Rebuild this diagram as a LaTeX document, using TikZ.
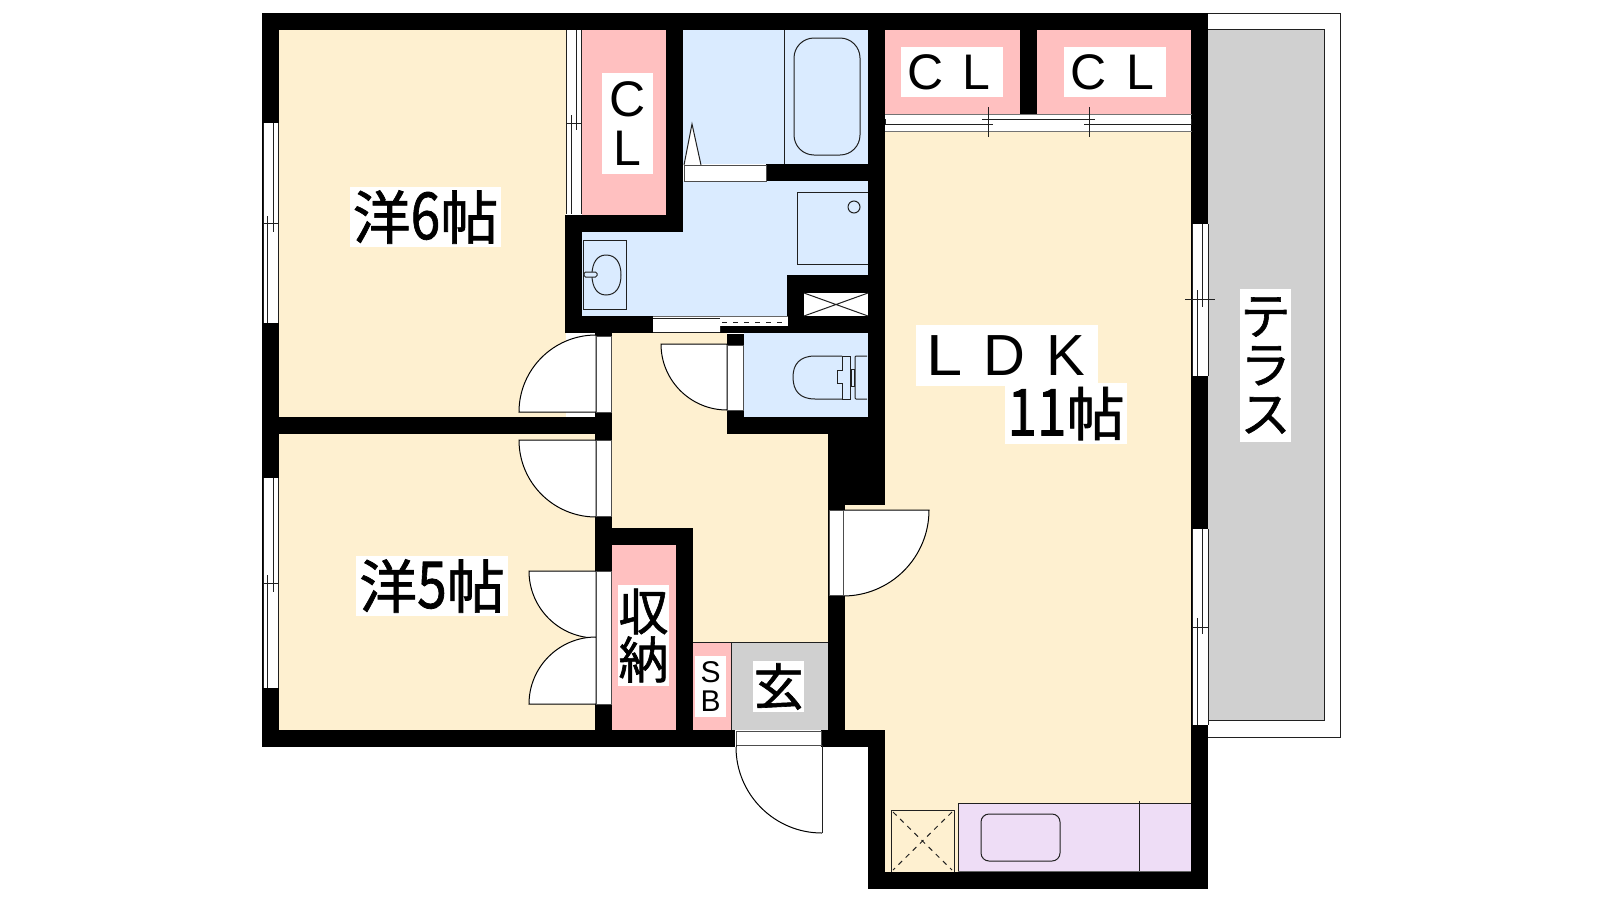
\documentclass[tikz,border=0pt]{standalone}
\usepackage{graphicx}
\usepackage{fontspec}
\newfontfamily\jp[FakeBold=1.2]{Noto Sans CJK JP}
\newfontfamily\ar{Liberation Sans}
\definecolor{beige}{HTML}{FEF0D0}
\definecolor{pinkc}{HTML}{FFC0C0}
\definecolor{bluec}{HTML}{DAEBFF}
\definecolor{grayc}{HTML}{D0D0D0}
\definecolor{purplec}{HTML}{EEDDF6}
\definecolor{linec}{HTML}{202020}
\tikzset{
  wall/.style={fill=black,draw=none},
  ln/.style={draw=linec,line width=1pt},
  thin ln/.style={draw=linec,line width=0.8pt},
  frame/.style={fill=white,draw=linec!80,line width=1pt},
  leaf/.style={fill=white,draw=black,line width=1pt},
  lbl/.style={fill=white,inner sep=0pt,text=black,font=\jp,align=center},
}
\newcommand{\vwin}[9]{%
  \fill[white] (#1,#5) rectangle (#4,#7);
  \draw[ln] (#1,#5) -- (#1,#7) (#4,#5) -- (#4,#7) (#1,#6) -- (#4,#6);
  \draw[ln] (#2,#8) -- (#2,#7) (#3,#5) -- (#3,#9);
}
\newcommand{\lt}[2]{\makebox[#1pt]{\ar #2}}
\newcommand{\dg}[1]{\scalebox{0.92}[1.12]{#1}}
\begin{document}
\begin{tikzpicture}[x=1pt,y=-1pt]
\useasboundingbox (0,0) rectangle (1600,900);
\fill[white] (0,0) rectangle (1600,900);
% terrace
\fill[white] (1199,13) rectangle (1340,737);
\draw[ln] (1199,13) -- (1340,13) -- (1340,737) -- (1208,737);
\fill[grayc] (1208,29) rectangle (1324,720);
\draw[ln] (1208,29) -- (1324,29) -- (1324,720) -- (1208,720);
% floors
\fill[beige] (279,30) rectangle (566,417);
\fill[beige] (279,434) rectangle (596,730);
\fill[beige] (612,333) rectangle (727,528);
\fill[beige] (693,417) rectangle (828,642);
\fill[beige] (885,131) rectangle (1191,872);
\fill[beige] (845,505) rectangle (885,730);
\fill[pinkc] (582,30) rectangle (666,215);
\fill[pinkc] (885,30) rectangle (1020,114);
\fill[pinkc] (1037,30) rectangle (1191,114);
\fill[pinkc] (612,545) rectangle (676,730);
\fill[pinkc] (693,642) rectangle (731,730);
\fill[grayc] (731,642) rectangle (828,730);
\fill[bluec] (683,30) rectangle (868,164);
\fill[bluec] (683,181) -- (868,181) -- (868,275) -- (788,275) -- (788,316) -- (582,316) -- (582,232) -- (683,232) -- cycle;
\fill[bluec] (744,333) rectangle (868,417);
% walls
\fill[wall] (262,13) rectangle (1208,30);
\fill[wall] (262,30) rectangle (279,747);
\fill[wall] (262,730) rectangle (735,747);
\fill[wall] (821,730) rectangle (885,747);
\fill[wall] (262,417) rectangle (612,434);
\fill[wall] (666,30) rectangle (683,232);
\fill[wall] (565,215) rectangle (683,232);
\fill[wall] (565,215) rectangle (582,333);
\fill[wall] (565,316) rectangle (653,333);
\fill[wall] (766,164) rectangle (885,181);
\fill[wall] (868,13) rectangle (885,434);
\fill[wall] (787,275) rectangle (885,293);
\fill[wall] (787,275) rectangle (804,333);
\fill[wall] (788,316) rectangle (885,333);
\fill[wall] (720,326) rectangle (788,333);
\fill[wall] (1020,30) rectangle (1037,114);
\fill[wall] (1191,13) rectangle (1208,889);
\fill[wall] (868,730) rectangle (885,889);
\fill[wall] (868,872) rectangle (1208,889);
\fill[wall] (595,333) rectangle (612,730);
\fill[wall] (612,528) rectangle (693,545);
\fill[wall] (676,528) rectangle (693,747);
\fill[wall] (727,334) rectangle (744,434);
\fill[wall] (727,417) rectangle (885,434);
\fill[wall] (828,434) rectangle (885,505);
\fill[wall] (828,505) rectangle (845,747);
% windows
\vwin{263}{267}{273}{278}{123}{223}{323}{216}{232}
\vwin{263}{267}{273}{278}{478}{583}{688}{575}{592}
\vwin{566}{571}{576}{581}{30}{123}{214}{115}{130}
\vwin{1192}{1197}{1202}{1208}{224}{299}{376}{290}{307}
\vwin{1192}{1197}{1202}{1208}{529}{627}{725}{618}{634}
\draw[thin ln] (1185,299) -- (1215,299);
% top window of LDK closets
\fill[white] (885,114) rectangle (1191,131);
\draw[ln] (885,119) -- (885,125) (1191,119) -- (1191,125);
\draw[ln] (982,119) -- (1095,119) (885,124.5) -- (993,124.5) (1084,124.5) -- (1191,124.5);
\draw[draw=black!55,line width=0.6pt] (885,114) -- (1192,114) (885,131) -- (1192,131);
\draw[thin ln] (988,107) -- (988,137) (1089,107) -- (1089,137);
% bath
\draw[ln] (784,30) -- (784,164);
\draw[ln,rounded corners=20pt] (794,38) rectangle (860,155);
\draw[ln,fill=white] (684,165) -- (692,124) -- (701,165);
\draw[frame] (684,165) rectangle (766,181);
% wash
\draw[ln] (868,192) -- (797,192) -- (797,264) -- (868,264);
\draw[ln] (854,207) circle (6);
\fill[white] (804,293) rectangle (868,316);
\draw[ln] (804,293) -- (868,316) (804,316) -- (868,293);
\draw[ln] (583,240) rectangle (626,309);
\draw[ln] (606,255) .. controls (616,255) and (621,263) .. (621,275) .. controls (621,287) and (616,295) .. (606,295) .. controls (597,295) and (592,287) .. (592,275) .. controls (592,263) and (597,255) .. (606,255) -- cycle;
\draw[ln,fill=bluec,rounded corners=1.5pt] (584,272) rectangle (597,277);
% sliding door washroom
\fill[white] (653,316) rectangle (720,332);
\draw[ln] (653,318) -- (720,318) (720,316) -- (720,332) (653,332) -- (720,332);
\draw[draw=black!60,line width=0.7pt] (653,316) -- (720,316);
\fill[white] (720,317) rectangle (788,326);
\draw[ln,dash pattern=on 5pt off 6pt] (722,322.5) -- (788,322.5);
\draw[draw=black!60,line width=0.7pt] (720,316) -- (788,316);
% doors
\draw[leaf] (596,335) arc (270:180:77) -- (596,412) -- cycle;
\draw[frame] (596,336) rectangle (611.5,412);
\draw[leaf] (519,440) arc (180:90:77) -- (596,440) -- cycle;
\draw[frame] (596,440) rectangle (611.5,516);
\draw[leaf] (529,571) arc (180:90:67) -- (596,571) -- cycle;
\draw[leaf] (596,637) arc (270:180:67) -- (596,704) -- cycle;
\draw[frame] (596,571) rectangle (611.5,704);
\draw[leaf] (661,344) arc (180:90:66) -- (727,344) -- cycle;
\draw[frame] (727,345) rectangle (743,410);
\draw[leaf] (929,510) arc (0:90:86) -- (843,510) -- cycle;
\draw[frame] (829,510) rectangle (843,595);
\draw[ln] (693,642) -- (828,642) (731,642) -- (731,730);
\draw[frame] (736,731) rectangle (821,745);
\draw[leaf] (736,747) arc (180:90:86);
\draw[ln] (736,745) -- (736,747);
\draw[ln] (822,745) -- (822,833);
% toilet
\draw[ln] (842,356) -- (815,356) .. controls (800,356) and (793,364) .. (793,377) .. controls (793,391) and (800,399) .. (815,399) -- (842,399);
\draw[ln] (842,356) -- (850,356) -- (850,399) -- (842,399) -- (842,383) -- (837,383) -- (837,370) -- (842,370) -- cycle;
\draw[ln] (851,369) rectangle (854,386);
\draw[ln,rounded corners=1pt] (867,356) -- (855,356) -- (855,399) -- (867,399);
% kitchen
\fill[purplec] (958,803) rectangle (1191,871);
\draw[ln] (1191,803) -- (958,803) -- (958,871);
\draw[draw=linec!70,line width=0.7pt] (958,871) -- (1191,871);
\draw[thin ln] (1139,801) -- (1139,871);
\draw[ln,rounded corners=8pt] (981,814) rectangle (1060,861);
\draw[ln] (891,872) -- (891,810) -- (954,810) -- (954,872);
\draw[ln,dash pattern=on 5pt off 5pt] (893,812) -- (952,870) (952,812) -- (893,870);
% labels
\node[lbl,minimum width=151pt,minimum height=60pt,font=\jp\fontsize{58}{58}\selectfont] (r6) at (425.5,217) {洋\dg{6}帖};
\node[lbl,minimum width=152pt,minimum height=60pt,font=\jp\fontsize{58}{58}\selectfont] (r5) at (432,586) {洋\dg{5}帖};
\node[lbl,minimum width=51pt,minimum height=101pt,font=\fontsize{50}{50}\selectfont] (cl0) at (627.5,123.5) {\lt{50}{C}\\[-1pt]\lt{50}{L}};
\node[lbl,minimum width=101pt,minimum height=50pt,font=\fontsize{50}{50}\selectfont] (cl1) at (951.5,72) {\lt{50}{C}\lt{52}{L}};
\node[lbl,minimum width=102pt,minimum height=50pt,font=\fontsize{50}{50}\selectfont] (cl2) at (1115,72) {\lt{50}{C}\lt{52}{L}};
\node[lbl,minimum width=182pt,minimum height=61pt,font=\fontsize{58}{58}\selectfont] (ldk) at (1007,355.5) {\lt{58}{\scalebox{1.12}[1]{L}}\lt{60}{D}\lt{64}{K}};
\node[lbl,minimum width=122pt,minimum height=61pt,font=\jp\fontsize{58}{58}\selectfont] (m11) at (1066,413.5) {\dg{11}帖};
\node[lbl,minimum width=51pt,minimum height=153pt,font=\jp\fontsize{50}{50}\selectfont] (tr) at (1265.5,365.5) {テ\\[-1pt]ラ\\[-1pt]ス};
\node[lbl,minimum width=51pt,minimum height=101pt,font=\jp\fontsize{50}{50}\selectfont] (sn) at (643.5,635.5) {収\\[-2pt]納};
\node[lbl,minimum width=31pt,minimum height=61pt,font=\fontsize{30}{30}\selectfont] (sb) at (710.5,686.5) {\lt{30}{S}\\[-1pt]\lt{30}{B}};
\node[lbl,minimum width=51pt,minimum height=51pt,font=\jp\fontsize{50}{50}\selectfont] (gk) at (778.5,686.5) {玄};
\end{tikzpicture}
\end{document}
